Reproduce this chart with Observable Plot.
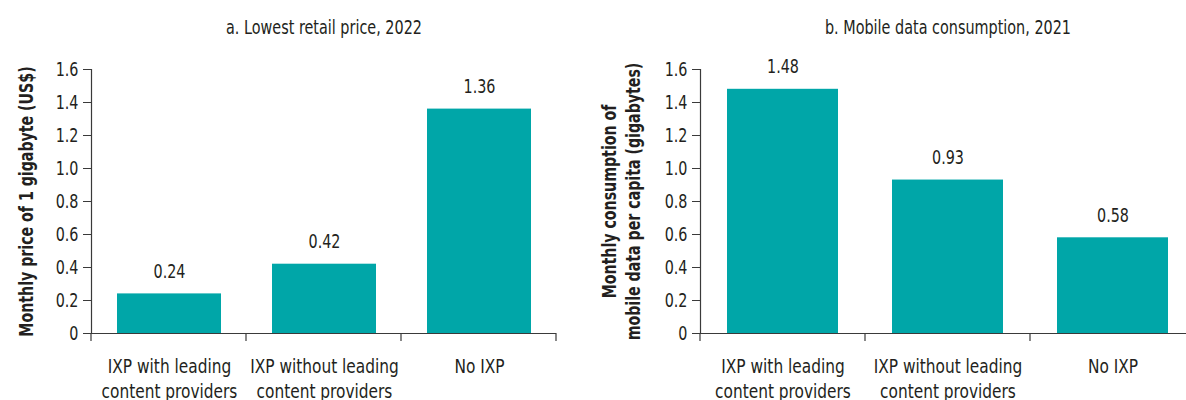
<!DOCTYPE html>
<html>
<head>
<meta charset="utf-8">
<script src="https://cdn.jsdelivr.net/npm/d3@7"></script>
<script src="https://cdn.jsdelivr.net/npm/@observablehq/plot@0.6"></script>
<style>
  html, body { margin: 0; padding: 0; background: #fff; overflow: hidden; }
  #chart { position: relative; width: 1186px; height: 400px; overflow: hidden;
           font-family: "Liberation Sans Narrow", "DejaVu Sans Condensed", "Arial Narrow", sans-serif; color: #231f20; }
  .panel { position: absolute; top: 0; }
  .panel-title { position: absolute; top: 15px; font-size: 20px; line-height: 24px; white-space: nowrap;
                 transform: translateX(-50%) scaleX(0.8); }
  .panel svg { position: absolute; top: 40px; left: 0; overflow: visible; }
</style>
</head>
<body>
<div id="chart"></div>
<script>
// Categories shared by both panels
const categories = ["IXP with leading content providers", "IXP without leading content providers", "No IXP"];
const categoryLabels = ["IXP with leading\ncontent providers", "IXP without leading\ncontent providers", "No IXP"];

// Panel a: lowest retail price of 1 GB per month (US$), 2022
const priceValues = [0.24, 0.42, 1.36];
// Panel b: monthly mobile data consumption per capita (GB), 2021
const consumptionValues = [1.48, 0.93, 0.58];

const yTicks = [0, 0.2, 0.4, 0.6, 0.8, 1.0, 1.2, 1.4, 1.6];
const panelTitles = ["a. Lowest retail price, 2022", "b. Mobile data consumption, 2021"];
const yTitles = ["Monthly price of 1 gigabyte (US$)", "Monthly consumption of\nmobile data per capita (gigabytes)"];

const barColor = "#00a6a8";
const inkColor = "#231f20";
const axisColor = "#3a3a3a";
const fontFamily = '"Liberation Sans Narrow", "DejaVu Sans Condensed", "Arial Narrow", sans-serif';
const fmtValue = d3.format(".2f");
const fmtTick = d => d === 0 ? "0" : d3.format(".1f")(d);

// Short downward ticks at the boundaries between category bands
function bandEdgeTicks(n) {
  return (index, scales, values, dims) => {
    const {width, marginLeft, marginRight} = dims;
    const step = (width - marginLeft - marginRight) / n;
    const y0 = scales.y(0);
    const g = d3.create("svg:g").attr("stroke", axisColor).attr("stroke-width", 1.2);
    for (let k = 0; k <= n; ++k) {
      const x = marginLeft + k * step;
      g.append("line").attr("x1", x).attr("x2", x).attr("y1", y0).attr("y2", y0 + 8);
    }
    return g.node();
  };
}

// Narrow the glyphs of a text element along its own baseline
function condenseText(t, s) {
  let tr = t.getAttribute("transform") || "";
  const x = parseFloat(t.getAttribute("x"));
  if (Number.isFinite(x) && x !== 0) {
    t.removeAttribute("x");
    tr += ` translate(${x},0)`;
  }
  t.setAttribute("transform", `${tr} scale(${s},1)`);
}

function panel({left, width, marginLeft, marginRight, values, title, yTitle, yTitleDx}) {
  const data = categories.map((c, i) => ({category: c, value: values[i]}));
  const plot = Plot.plot({
    width,
    height: 373,
    marginTop: 29,
    marginBottom: 80,
    marginLeft,
    marginRight,
    style: {fontFamily, fontSize: "19px", color: inkColor, background: "transparent"},
    x: {domain: categories, paddingInner: 0.33, paddingOuter: 0.165, align: 0.5},
    y: {domain: [0, 1.6]},
    marks: [
      Plot.barY(data, {x: "category", y: "value", fill: barColor}),
      Plot.ruleY([0], {stroke: axisColor, strokeWidth: 1.2}),
      Plot.frame({anchor: "left", stroke: axisColor, strokeWidth: 1.2}),
      bandEdgeTicks(categories.length),
      Plot.axisY({ticks: yTicks, tickFormat: fmtTick, tickSize: 8, tickPadding: 5, label: null,
                  fontSize: 19, stroke: axisColor, fill: inkColor}),
      Plot.axisX({tickSize: 0, tickPadding: 22, label: null, fontSize: 19, lineHeight: 1.3,
                  tickFormat: d => categoryLabels[categories.indexOf(d)], fill: inkColor}),
      Plot.text(data, {x: "category", y: "value", text: d => fmtValue(d.value), dy: -22,
                       fontSize: 19, fill: inkColor}),
      Plot.text([yTitle], {text: d => d, frameAnchor: "left", textAnchor: "middle", rotate: -90, dx: yTitleDx,
                           fontSize: 19, fontWeight: "bold", lineHeight: 1.3, fill: inkColor})
    ]
  });
  plot.querySelectorAll('g[aria-label="y-axis tick label"] text').forEach(t => condenseText(t, 0.84));
  plot.querySelectorAll('g[aria-label="x-axis tick label"] text').forEach(t => condenseText(t, 0.9));
  plot.querySelectorAll('g[aria-label="text"] text').forEach(t => {
    const rotated = /rotate/.test(t.getAttribute("transform") || "");
    condenseText(t, rotated ? 0.83 : 0.84);
  });

  const div = document.createElement("div");
  div.className = "panel";
  div.style.left = left + "px";
  div.style.width = width + "px";
  const t = document.createElement("div");
  t.className = "panel-title";
  t.textContent = title;
  t.style.left = (marginLeft + (width - marginLeft - marginRight) / 2) + "px";
  div.appendChild(t);
  div.appendChild(plot);
  return div;
}

const chart = document.getElementById("chart");
chart.appendChild(panel({left: 0, width: 600, marginLeft: 91, marginRight: 44,
  values: priceValues, title: panelTitles[0], yTitle: yTitles[0], yTitleDx: -66.5}));
chart.appendChild(panel({left: 600, width: 605, marginLeft: 100, marginRight: 10,
  values: consumptionValues, title: panelTitles[1], yTitle: yTitles[1], yTitleDx: -80.5}));
</script>
</body>
</html>
